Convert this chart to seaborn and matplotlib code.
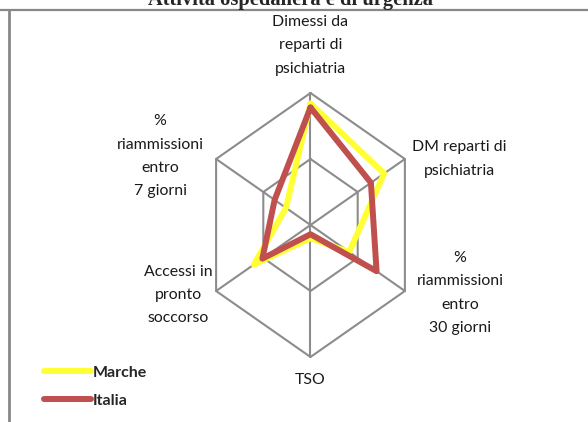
import numpy as np
import pandas as pd
import seaborn as sns
import matplotlib.pyplot as plt
from matplotlib.lines import Line2D

# axes of the radar, clockwise from the top
categories = [
    "Dimessi da\nreparti di\npsichiatria",
    "DM reparti di\npsichiatria",
    "%\nriammissioni\nentro\n30 giorni",
    "TSO",
    "Accessi in\npronto\nsoccorso",
    "%\nriammissioni\nentro\n7 giorni",
]
marche = [0.92, 0.78, 0.41, 0.10, 0.60, 0.26]
italia = [0.89, 0.64, 0.70, 0.07, 0.51, 0.38]
series_names = ["Marche", "Italia"]
colors = {"Marche": "#FFFF33", "Italia": "#C0504D"}
rings = [0.5, 1.0]
title = "Attività ospedaliera e di urgenza"

sns.set_theme(style="white")
plt.rcParams["font.family"] = ["Lato", "DejaVu Sans"]

n = len(categories)
theta = np.arange(n) * 2 * np.pi / n
# closed polygon helper (angle measured clockwise from the top)
def to_xy(r):
    r = np.append(r, r[0])
    t = np.append(theta, theta[0])
    return r * np.sin(t), r * np.cos(t)

fig = plt.figure(figsize=(5.88, 4.22), dpi=100)
ax = fig.add_axes([0, 0, 1, 1])
# anisotropic scaling: the original hexagon is squeezed horizontally
ax.set_xlim(-310.5 / 109, (588 - 310.5) / 109)
ax.set_ylim(-197 / 132, 225 / 132)
ax.axis("off")

grid_col = "#8C8C8C"
for rr in rings:
    gx, gy = to_xy(np.full(n, rr))
    ax.plot(gx, gy, color=grid_col, lw=1.5, zorder=1)
for t in theta:
    ax.plot([0, np.sin(t)], [0, np.cos(t)], color=grid_col, lw=1.5, zorder=1)

rows = []
for name, vals in zip(series_names, [marche, italia]):
    x, y = to_xy(np.array(vals))
    for i, (a, b) in enumerate(zip(x, y)):
        rows.append({"serie": name, "i": i, "x": a, "y": b})
df = pd.DataFrame(rows)
sns.lineplot(data=df, x="x", y="y", hue="serie", units="serie", estimator=None,
             sort=False, palette=colors, hue_order=series_names, lw=4.3,
             legend=False, ax=ax, zorder=3)

# category labels
label_pos = [(0, 1.36), (1.365, 0.50), (1.372, -0.515),
             (0, -1.174), (-1.216, -0.53), (-1.38, 0.52)]
for lab, (lx, ly) in zip(categories, label_pos):
    ax.text(lx, ly, lab, ha="center", va="center", fontsize=11.4,
            linespacing=1.85, color="#1a1a1a")

handles = [Line2D([], [], color=colors[s], lw=4.3, solid_capstyle="round")
           for s in series_names]
leg = fig.legend(handles, series_names, loc="upper left",
                 bbox_to_anchor=(31 / 588, 1 - 353 / 422), frameon=False,
                 handlelength=2.95, handletextpad=0.1, labelspacing=0.85,
                 borderpad=0.3, prop={"weight": "bold", "size": 11.5})

# frame fragments and clipped title
fig.add_artist(Line2D([0, 1], [1 - 9.5 / 422] * 2, color="#888888", lw=1.6))
fig.add_artist(Line2D([8.5 / 588] * 2, [0, 1 - 9.5 / 422], color="#888888", lw=2))
fig.text(290 / 588, 1 - 4.5 / 422, title, ha="center", va="baseline",
         fontsize=14.8, fontweight="bold", family=["Liberation Serif", "DejaVu Serif"])

fig.savefig("out.png", dpi=100)
